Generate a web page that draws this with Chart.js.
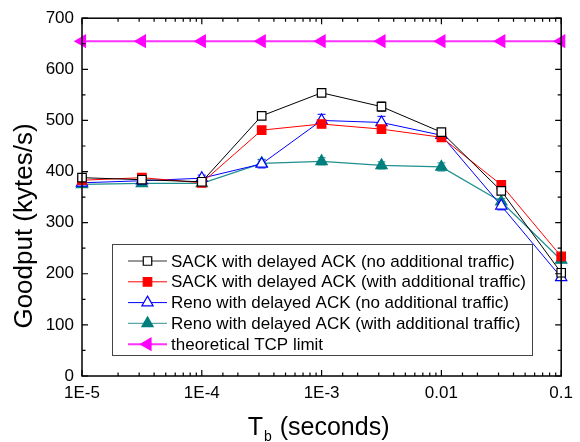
<!DOCTYPE html>
<html>
<head>
<meta charset="utf-8">
<script src="https://cdn.jsdelivr.net/npm/chart.js@4.4.1/dist/chart.umd.min.js"></script>
<style>
  html, body { margin: 0; padding: 0; background: #fff; }
  #wrap { width: 580px; height: 442px; }
</style>
</head>
<body>
<div id="wrap"><canvas id="c" width="580" height="442"></canvas></div>
<script>
// ─── Data ────────────────────────────────────────────────────────────────────
const tbValues    = [1e-5, 3.162e-5, 1e-4, 3.162e-4, 1e-3, 3.162e-3, 0.01, 0.03162, 0.1];
const xTickLabels = { "-5": "1E-5", "-4": "1E-4", "-3": "1E-3", "-2": "0.01", "-1": "0.1" };

const sackNoTraffic   = [388, 384, 380, 509, 554, 527, 477, 362, 202];
const sackWithTraffic = [383, 388, 378, 481, 493, 483, 467, 374, 234];
const renoNoTraffic   = [378, 382, 387, 415, 500, 496, 471, 333, 193];
const renoWithTraffic = [375, 377, 377, 416, 420, 412, 409, 341, 227];
const tcpLimit        = [655, 655, 655, 655, 655, 655, 655, 655, 655];

const sackNoErr   = [7, 5, 5, 6, 5, 9, 5, 6, 4];
const sackWithErr = [5, 5, 5, 6, 6, 7, 5, 5, 5];
const renoNoErr   = [5, 5, 6, 8, 12, 12, 6, 8, 6];
const renoWithErr = [5, 5, 5, 8, 7, 7, 8, 6, 5];

const FONT = "'Liberation Sans', Arial, Helvetica, sans-serif";

function pts(ys, errs) {
    return tbValues.map((x, i) => ({ x: x, y: ys[i], err: errs ? errs[i] : 0 }));
}

// ─── Plugin: frame, inward ticks, error bars, titles, legend ────────────────
const decor = {
    id: "decor",
    beforeDatasetsDraw(chart) {
        const ctx = chart.ctx;
        const xs = chart.scales.x, ys = chart.scales.y;
        chart.data.datasets.forEach((ds, di) => {
            if (!ds.showErr) return;
            ctx.save();
            ctx.strokeStyle = ds.borderColor;
            ctx.lineWidth = 1;
            ds.data.forEach((p) => {
                if (!p.err) return;
                const px = xs.getPixelForValue(p.x);
                const y1 = ys.getPixelForValue(p.y + p.err);
                const y2 = ys.getPixelForValue(p.y - p.err);
                ctx.beginPath();
                ctx.moveTo(px, y1); ctx.lineTo(px, y2);
                ctx.moveTo(px - 4, y1); ctx.lineTo(px + 4, y1);
                ctx.moveTo(px - 4, y2); ctx.lineTo(px + 4, y2);
                ctx.stroke();
            });
            ctx.restore();
        });
    },
    afterDraw(chart) {
        const ctx = chart.ctx;
        const a = chart.chartArea;
        const xs = chart.scales.x, ys = chart.scales.y;
        ctx.save();
        ctx.strokeStyle = "#000";
        ctx.lineWidth = 1.5;
        ctx.strokeRect(a.left, a.top, a.right - a.left, a.bottom - a.top);

        // x ticks (log): major at decades, minor at 2..9
        ctx.lineWidth = 1.2;
        ctx.beginPath();
        xs.ticks.forEach((t) => {
            const lg = Math.log10(t.value);
            const major = Math.abs(lg - Math.round(lg)) < 1e-6;
            const len = major ? 6 : 3.5;
            const px = xs.getPixelForValue(t.value);
            if (px < a.left - 0.5 || px > a.right + 0.5) return;
            ctx.moveTo(px, a.bottom); ctx.lineTo(px, a.bottom - len);
            ctx.moveTo(px, a.top);    ctx.lineTo(px, a.top + len);
        });
        // y ticks: major every 100, minor every 50
        for (let v = ys.min; v <= ys.max; v += 50) {
            const len = v % 100 === 0 ? 6 : 3.5;
            const py = ys.getPixelForValue(v);
            ctx.moveTo(a.left, py);  ctx.lineTo(a.left + len, py);
            ctx.moveTo(a.right, py); ctx.lineTo(a.right - len, py);
        }
        ctx.stroke();

        // axis titles
        ctx.fillStyle = "#000";
        ctx.textBaseline = "alphabetic";
        ctx.font = "25px " + FONT;
        const t1 = "T", t2 = "b", t3 = " (seconds)";
        const w1 = ctx.measureText(t1).width;
        const w3 = ctx.measureText(t3).width;
        ctx.font = "14px " + FONT;
        const w2 = ctx.measureText(t2).width;
        let tx = (a.left + a.right) / 2 - (w1 + w2 + w3) / 2 - 4;
        const ty = 435;
        ctx.font = "25px " + FONT;
        ctx.textAlign = "left";
        ctx.fillText(t1, tx, ty);
        ctx.font = "14px " + FONT;
        ctx.fillText(t2, tx + w1 + 1, ty + 6);
        ctx.font = "25px " + FONT;
        ctx.fillText(t3, tx + w1 + w2 + 2, ty);

        ctx.save();
        ctx.translate(32, 226);
        ctx.rotate(-Math.PI / 2);
        ctx.textAlign = "center";
        ctx.font = "26px " + FONT;
        ctx.fillText("Goodput (kytes/s)", 0, 0);
        ctx.restore();

        // legend box
        const bx = 112, by = 244, bw = 420, bh = 111;
        ctx.fillStyle = "#fff";
        ctx.fillRect(bx, by, bw, bh);
        ctx.strokeStyle = "#444";
        ctx.lineWidth = 1;
        ctx.strokeRect(bx + 0.5, by + 0.5, bw, bh);
        chart.data.datasets.forEach((ds, i) => {
            const ry = 261 + i * 20.8;
            ctx.strokeStyle = ds.legendLine || ds.borderColor;
            ctx.lineWidth = ds.borderWidth;
            ctx.beginPath();
            ctx.moveTo(128, ry); ctx.lineTo(167, ry);
            ctx.stroke();
            ctx.fillStyle = ds.pointBackgroundColor;
            ctx.strokeStyle = ds.pointBorderColor;
            ctx.lineWidth = 1.2;
            Chart.helpers.drawPoint(ctx, {
                pointStyle: ds.pointStyle,
                radius: ds.pointRadius,
                rotation: ds.pointRotation || 0,
                borderWidth: 1.2
            }, 147.5, ry);
            ctx.fillStyle = "#000";
            ctx.font = "17px " + FONT;
            ctx.textAlign = "left";
            ctx.textBaseline = "middle";
            ctx.fillText(ds.label, 171, ry + 1);
        });
        ctx.restore();
    }
};

const common = { showLine: true, clip: false, pointBorderWidth: 1.2 };

new Chart(document.getElementById("c"), {
    type: "scatter",
    data: {
        datasets: [
            Object.assign({}, common, {
                label: "SACK with delayed ACK (no additional traffic)",
                data: pts(sackNoTraffic, sackNoErr), showErr: true,
                borderColor: "#000", borderWidth: 1, legendLine: "#333",
                pointStyle: "rect", pointRadius: 6,
                pointBackgroundColor: "#fff", pointBorderColor: "#000"
            }),
            Object.assign({}, common, {
                label: "SACK with delayed ACK (with additional traffic)",
                data: pts(sackWithTraffic, sackWithErr), showErr: true,
                borderColor: "#ff0000", borderWidth: 1,
                pointStyle: "rect", pointRadius: 6,
                pointBackgroundColor: "#ff0000", pointBorderColor: "#ff0000"
            }),
            Object.assign({}, common, {
                label: "Reno with delayed ACK (no additional traffic)",
                data: pts(renoNoTraffic, renoNoErr), showErr: true,
                borderColor: "#0000ff", borderWidth: 1,
                pointStyle: "triangle", pointRadius: 6.5,
                pointBackgroundColor: "#fff", pointBorderColor: "#0000ff"
            }),
            Object.assign({}, common, {
                label: "Reno with delayed ACK (with additional traffic)",
                data: pts(renoWithTraffic, renoWithErr), showErr: true,
                borderColor: "#1f8f8f", borderWidth: 1.2, legendLine: "#5aa8a8",
                pointStyle: "triangle", pointRadius: 6.5,
                pointBackgroundColor: "#007f7f", pointBorderColor: "#007f7f"
            }),
            Object.assign({}, common, {
                label: "theoretical TCP limit",
                data: pts(tcpLimit, null), showErr: false,
                borderColor: "#ff33ff", borderWidth: 2,
                pointStyle: "triangle", pointRadius: 7, pointRotation: -90,
                rotation: -90,
                pointBackgroundColor: "#ff00ff", pointBorderColor: "#ff00ff"
            })
        ]
    },
    options: {
        responsive: false,
        animation: false,
        layout: { padding: { top: 18, right: 17, left: 0, bottom: 0 } },
        plugins: { legend: { display: false }, tooltip: { enabled: false } },
        scales: {
            x: {
                type: "logarithmic",
                min: 1e-5, max: 0.1,
                grid: { display: false, drawTicks: false },
                border: { display: false },
                afterFit: (s) => { s.height = 66; },
                ticks: {
                    autoSkip: false, maxRotation: 0, padding: 7,
                    color: "#000", font: { family: FONT, size: 17 },
                    callback: (v) => {
                        const lg = Math.log10(v);
                        const r = Math.round(lg);
                        return Math.abs(lg - r) < 1e-6 ? (xTickLabels[String(r)] || "") : "";
                    }
                }
            },
            y: {
                min: 0, max: 700,
                grid: { display: false, drawTicks: false },
                border: { display: false },
                afterFit: (s) => { s.width = 82; },
                ticks: {
                    stepSize: 100, padding: 8,
                    color: "#000", font: { family: FONT, size: 17 }
                }
            }
        }
    },
    plugins: [decor]
});
</script>
</body>
</html>
